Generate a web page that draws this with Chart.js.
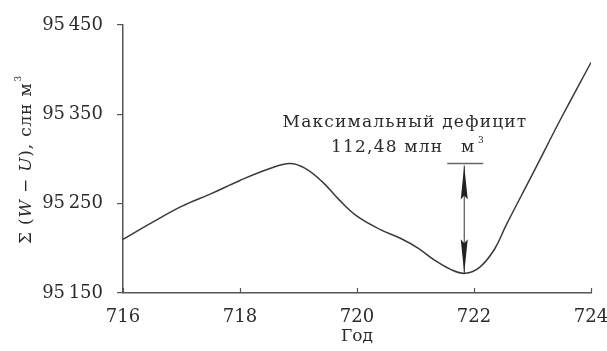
<!DOCTYPE html>
<html>
<head>
<meta charset="utf-8">
<script src="https://cdn.jsdelivr.net/npm/chart.js@4"></script>
<style>
  html, body { margin: 0; padding: 0; background: #fff; }
  #wrap { width: 607px; height: 351px; }
</style>
</head>
<body>
<div id="wrap"><canvas id="chart"></canvas></div>
<script>
// Данные кривой (год, накопленная сумма)
const years = [716, 716.5, 717, 717.5, 718, 718.5, 718.85, 719.1, 719.4, 719.7, 720.0, 720.4,
               720.75, 721.05, 721.3, 721.6, 721.85, 722.1, 722.35, 722.55, 723.0, 723.5, 724];
const sums = [95210, 95229, 95247, 95261, 95276, 95289, 95295, 95290, 95275, 95254, 95236, 95221,
              95211, 95200, 95188, 95176.5, 95172, 95179, 95199, 95226, 95283, 95347, 95408];
const yTicks = [95150, 95250, 95350, 95450];
const xTicks = [716, 718, 720, 722, 724];

const FONT = "'DejaVu Serif', serif";
const INK = '#2b2b2b';

// Подписи, стрелка и засечки
const annotations = {
  id: 'annotations',
  afterDraw(chart) {
    const ctx = chart.ctx;
    const xs = chart.scales.x, ys = chart.scales.y;
    const area = chart.chartArea;

    // засечки оси X внутрь
    ctx.save();
    ctx.strokeStyle = '#555';
    ctx.lineWidth = 1.2;
    xTicks.forEach(t => {
      const px = Math.round(xs.getPixelForValue(t)) + 0.5;
      ctx.beginPath();
      ctx.moveTo(px, area.bottom);
      ctx.lineTo(px, area.bottom - 5);
      ctx.stroke();
    });
    ctx.restore();

    // стрелка дефицита: от локального максимума до минимума
    let iMin = 0;
    sums.forEach((v, i) => { if (v < sums[iMin]) iMin = i; });
    let iMax = 0;
    for (let i = 0; i < iMin; i++) if (sums[i] > sums[iMax]) iMax = i;
    const ax = xs.getPixelForValue(years[iMin]) - 1;
    const yTop = ys.getPixelForValue(sums[iMax]);
    const yBot = ys.getPixelForValue(sums[iMin]);

    ctx.save();
    ctx.strokeStyle = '#666';
    ctx.lineWidth = 1.6;
    ctx.beginPath();
    ctx.moveTo(ax - 17, yTop);
    ctx.lineTo(ax + 19, yTop);
    ctx.stroke();

    ctx.strokeStyle = '#333';
    ctx.lineWidth = 1;
    ctx.beginPath();
    ctx.moveTo(ax, yTop + 2);
    ctx.lineTo(ax, yBot);
    ctx.stroke();

    ctx.fillStyle = '#222';
    const head = (tipY, dir) => {
      ctx.beginPath();
      ctx.moveTo(ax, tipY);
      ctx.lineTo(ax - 3.5, tipY + dir * 34);
      ctx.lineTo(ax, tipY + dir * 30);
      ctx.lineTo(ax + 3.5, tipY + dir * 34);
      ctx.closePath();
      ctx.fill();
    };
    head(yTop + 2, 1);
    head(yBot, -1);

    // текст
    ctx.fillStyle = INK;
    ctx.font = '17px ' + FONT;
    ctx.letterSpacing = '1.2px';
    ctx.textAlign = 'center';
    ctx.textBaseline = 'alphabetic';
    ctx.fillText('Максимальный дефицит', 405, 127);
    ctx.textAlign = 'left';
    ctx.fillText('112,48 млн', 331, 152);
    ctx.fillText('м', 461, 152);
    ctx.font = '9px ' + FONT;
    ctx.fillText('3', 478, 143);
    ctx.restore();

    // подпись оси Y
    ctx.save();
    ctx.translate(31, 244);
    ctx.rotate(-Math.PI / 2);
    ctx.fillStyle = INK;
    ctx.textAlign = 'left';
    ctx.textBaseline = 'alphabetic';
    ctx.letterSpacing = '0.8px';
    const parts = [
      ['Σ (', ''], ['W', 'italic '], [' − ', ''], ['U', 'italic '], ['), слн м', '']
    ];
    let x = 0;
    parts.forEach(([t, st]) => {
      ctx.font = st + '17px ' + FONT;
      ctx.fillText(t, x, 0);
      x += ctx.measureText(t).width;
    });
    ctx.font = '9px ' + FONT;
    ctx.fillText('3', x + 1, -10);
    ctx.restore();
  }
};

new Chart(document.getElementById('chart'), {
  type: 'line',
  data: {
    datasets: [{
      data: years.map((y, i) => ({ x: y, y: sums[i] })),
      borderColor: '#3a3a3a',
      borderWidth: 1.5,
      pointRadius: 0,
      tension: 0.4,
      fill: false
    }]
  },
  options: {
    responsive: true,
    maintainAspectRatio: false,
    animation: false,
    layout: { autoPadding: false, padding: { top: 25, right: 16, left: 0, bottom: 0 } },
    plugins: { legend: { display: false }, tooltip: { enabled: false } },
    scales: {
      x: {
        type: 'linear',
        min: 716, max: 724,
        afterBuildTicks: s => { s.ticks = xTicks.map(v => ({ value: v })); },
        afterFit: s => { s.height = 58; s.paddingLeft = 0; s.paddingRight = 0; },
        grid: { display: false, drawTicks: false },
        border: { color: '#555', width: 1.5 },
        ticks: { color: INK, font: { family: FONT, size: 18 }, padding: 14 },
        title: { display: true, text: 'Год', color: INK, font: { family: FONT, size: 17 }, padding: { top: 6 } }
      },
      y: {
        min: 95150, max: 95450,
        afterBuildTicks: s => { s.ticks = yTicks.map(v => ({ value: v })); },
        afterFit: s => { s.width = 123; s.paddingTop = 0; s.paddingBottom = 0; },
        grid: { drawOnChartArea: false, tickLength: 6, color: '#555', lineWidth: 1.2 },
        border: { color: '#555', width: 1.5 },
        ticks: {
          color: INK, font: { family: FONT, size: 18 }, padding: 14,
          callback: v => String(v).replace(/(\d{2})(\d{3})/, '$1\u2009$2')
        }
      }
    }
  },
  plugins: [annotations]
});
</script>
</body>
</html>
